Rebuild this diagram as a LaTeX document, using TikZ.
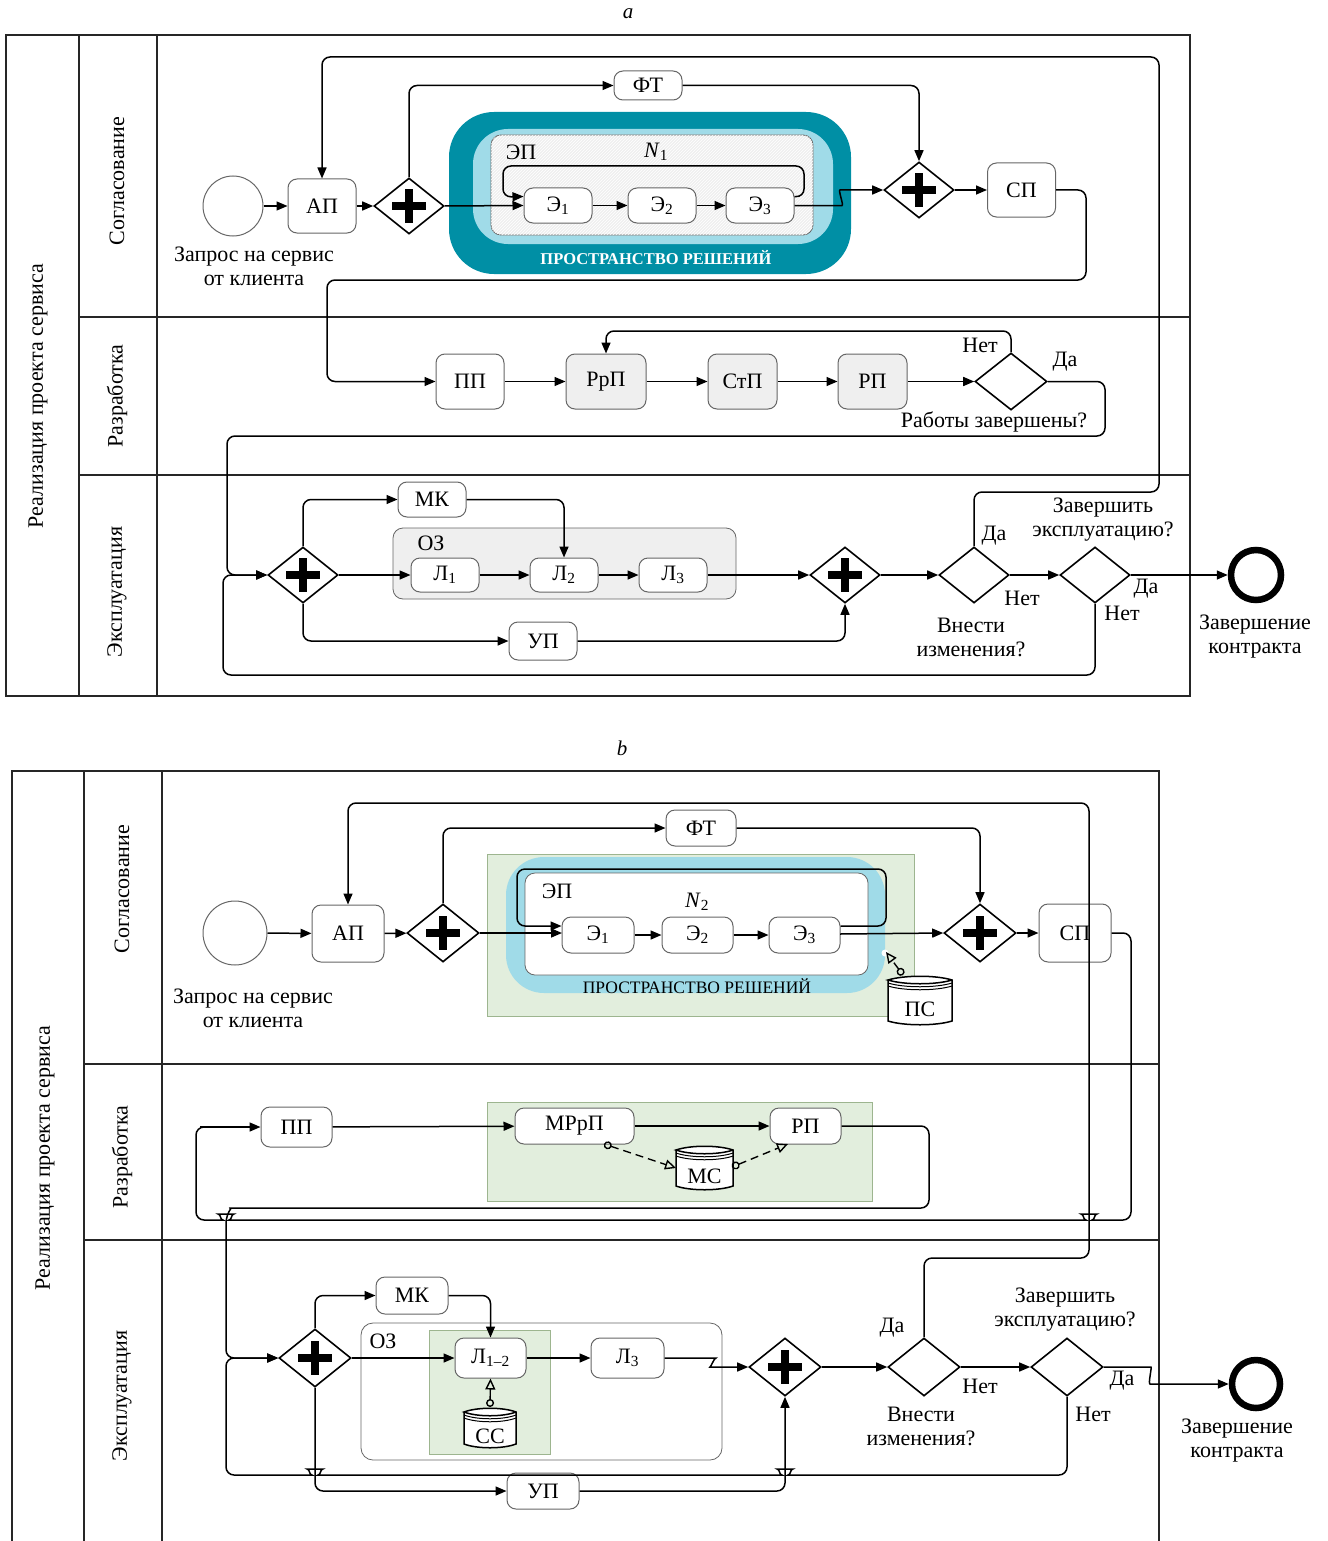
\documentclass[tikz,border=0pt]{standalone}
\usepackage{fontspec}
\setmainfont{Liberation Serif}
\usetikzlibrary{arrows.meta,shapes.geometric,patterns}
\definecolor{teal}{HTML}{008FA5}
\definecolor{lblue}{HTML}{A0DBE8}
\definecolor{lgreen}{HTML}{E2EEDD}
\definecolor{dgreen}{HTML}{9DB58F}
\definecolor{bgray}{HTML}{666666}
\definecolor{pgray}{HTML}{EFEFEF}
\tikzset{
  frameline/.style={line width=1.7pt,draw=black!85},
  flow/.style={line width=1.5pt,draw=black,rounded corners=8pt,-{Triangle[length=11pt,width=9pt]}},
  plainflow/.style={line width=1.5pt,draw=black,rounded corners=8pt},
  dep/.style={line width=1.4pt,draw=black,dash pattern=on 8pt off 5pt,{Circle[open,fill=none,length=8pt,width=8pt]}-{Triangle[open,length=11pt,width=10pt]}},
  box/.style={draw=bgray,line width=1pt,fill=white,rounded corners=9pt,inner sep=0pt,minimum width=#1},
  box/.default=68pt,
  graybox/.style={box=#1,fill=pgray},
  graybox/.default=68pt,
  gw/.style={diamond,draw=black,line width=1.6pt,fill=white,inner sep=0pt,minimum width=70pt,minimum height=56pt},
  gwb/.style={gw,minimum width=72pt,minimum height=58pt},
  plusgw/.style={path picture={
     \fill[black] (path picture bounding box.center) ++(-17,-4) rectangle ++(34,8);
     \fill[black] (path picture bounding box.center) ++(-4,-17) rectangle ++(8,34);}},
  lbl/.style={inner sep=0pt,align=center,font=\fontsize{22}{24}\selectfont},
  rot/.style={lbl,rotate=90},
  startev/.style={circle,draw=bgray,line width=1pt,fill=white,inner sep=0pt},
  endev/.style={circle,draw=black,line width=6.5pt,fill=white,inner sep=0pt,minimum size=50pt},
}
% cylinder: name, centre x, top y, width, height, text
\newcommand{\dbcyl}[6]{%
  \begin{scope}[shift={(#2,#3)}]
    \draw[line width=1.5pt,fill=white] (-#4/2,5) -- (-#4/2,#5-4) .. controls (-#4/4,#5+1) and (#4/4,#5+1) .. (#4/2,#5-4) -- (#4/2,5) .. controls (#4/4,0) and (-#4/4,0) .. (-#4/2,5) .. controls (-#4/4,10) and (#4/4,10) .. (#4/2,5);
    \draw[line width=1pt] (-#4/2,8) .. controls (-#4/4,13) and (#4/4,13) .. (#4/2,8);
    \draw[line width=1pt] (-#4/2,11) .. controls (-#4/4,16) and (#4/4,16) .. (#4/2,11);
    \node[lbl] (#1) at (0,#5/2+9) {#6};
  \end{scope}}
\newcommand{\hopat}[2]{-- (#1+11,#2) .. controls (#1+6,#2) and (#1+5,#2-6) .. (#1,#2-6) .. controls (#1-5,#2-6) and (#1-6,#2) .. (#1-11,#2)}
\begin{document}
\begin{tikzpicture}[x=1pt,y=-1pt]
\useasboundingbox (0,0) rectangle (1327,1541);
%%% ---------- PART A ----------
\node[lbl,font=\fontsize{21}{24}\itshape] (capA) at (628,14) {a};
\draw[frameline] (6,35) rectangle (1190,696);
\draw[frameline] (79,35) -- (79,696) (157,35) -- (157,696) (79,317) -- (1190,317) (79,475) -- (1190,475);
\node[rot] (tA0) at (38,396) {Реализация проекта сервиса};
\node[rot] (tA1) at (117,181) {Согласование};
\node[rot] (tA2) at (117,396) {Разработка};
\node[rot] (tA3) at (117,592) {Эксплуатация};
% nested regions
\node[fill=teal,rounded corners=45pt,minimum width=402pt,minimum height=162pt,inner sep=0pt] (regA1) at (650,193) {};
\node[fill=lblue,rounded corners=35pt,minimum width=360pt,minimum height=115pt,inner sep=0pt] (regA2) at (653,186.5) {};
\node[draw=bgray,line width=.8pt,fill=pgray,preaction={fill=pgray},postaction={pattern=north east lines,pattern color=white},rounded corners=10pt,minimum width=322pt,minimum height=100pt,inner sep=0pt] (regA3) at (652,185) {};
\node[lbl,font=\fontsize{16.5}{18}\bfseries\selectfont,text=white] (tReg) at (656,258) {ПРОСТРАНСТВО РЕШЕНИЙ};
\node[lbl] (tEpA) at (521,152) {ЭП};
\node[lbl] (tNA) at (656,152) {\textit{N}\textsubscript{1}};
% nodes
\node[startev,minimum size=60pt] (startA) at (233,206) {};
\node[lbl] (tStartA) at (254,266) {Запрос на сервис\\от клиента};
\node[box,minimum height=54pt,lbl] (apA) at (322,206) {АП};
\node[gw,plusgw] (gA1) at (409,206) {};
\node[box,minimum height=29pt,lbl] (ftA) at (648,85.5) {ФТ};
\node[box,minimum height=35pt,lbl] (e1A) at (558,205.5) {Э\textsubscript{1}};
\node[box,minimum height=35pt,lbl] (e2A) at (662,205.5) {Э\textsubscript{2}};
\node[box,minimum height=35pt,lbl] (e3A) at (760,205.5) {Э\textsubscript{3}};
\node[gw,plusgw] (gA2) at (919,190) {};
\node[box,minimum height=54pt,lbl] (spA) at (1021.5,190) {СП};
\node[box,minimum height=55pt,lbl] (ppA) at (470,381.5) {ПП};
\node[graybox=80pt,minimum height=55pt,lbl] (rrpA) at (606,381.5) {РрП};
\node[graybox=69pt,minimum height=55pt,lbl] (stpA) at (742.5,381.5) {СтП};
\node[graybox=69pt,minimum height=55pt,lbl] (rpA) at (872.5,381.5) {РП};
\node[gw,minimum width=72pt,minimum height=57pt] (dA) at (1011,381.5) {};
\node[lbl] (tNoA) at (980,345) {Нет};
\node[lbl] (tYesA) at (1065,362) {Да};
\node[lbl] (tDoneA) at (994,422) {Работы завершены?};
\node[gw,plusgw] (gA3) at (303,575) {};
\node[box,minimum height=35pt,lbl] (mkA) at (432,499.5) {МК};
\node[draw=bgray,line width=.8pt,fill=pgray,rounded corners=10pt,minimum width=343pt,minimum height=71pt,inner sep=0pt] (ozA) at (564.5,563.5) {};
\node[lbl] (tOzA) at (431,543) {ОЗ};
\node[box,minimum height=34pt,lbl] (l1A) at (445,575) {Л\textsubscript{1}};
\node[box,minimum height=34pt,lbl] (l2A) at (564,575) {Л\textsubscript{2}};
\node[box,minimum height=34pt,lbl] (l3A) at (673,575) {Л\textsubscript{3}};
\node[box,minimum height=38pt,lbl] (upA) at (543,641) {УП};
\node[gw,plusgw] (gA4) at (845,575) {};
\node[gw] (d3A) at (974,575) {};
\node[gw] (d4A) at (1095,575) {};
\node[endev] (endA) at (1256,575) {};
\node[lbl] (tYes3A) at (994,536) {Да};
\node[lbl] (tNo3A) at (1022,598) {Нет};
\node[lbl] (tChA) at (971,637) {Внести\\изменения?};
\node[lbl] (tFinA) at (1103,520) {Завершить\\эксплуатацию?};
\node[lbl] (tYes4A) at (1146,589) {Да};
\node[lbl] (tNo4A) at (1122,613) {Нет};
\node[lbl] (tEndA) at (1255,637) {Завершение\\контракта};
% connectors
\draw[flow] (startA) -- (apA);
\draw[flow] (apA) -- (gA1);
\draw[flow] (gA1.north) |- (ftA.west);
\draw[flow] (ftA.east) -| (gA2.north);
\draw[flow] (gA1.east) -- (e1A.west);
\draw[flow] ([yshift=9pt]e3A.east) -- (804,197) -- (804,166) -- (503,166) -- (503,197) -- ([yshift=9pt]e1A.west);
\draw[flow] (e1A) -- (e2A);
\draw[flow] (e2A) -- (e3A);
\draw[flow] (e3A.east) -- (834,205.5) .. controls (844,205.5) and (838,190) .. (848,190) -- (gA2.west);
\draw[flow] (gA2) -- (spA);
\draw[flow] (spA.east) -- (1086,190) -- (1086,280) -- (327,280) -- (327,381.5) -- (ppA.west);
\draw[flow] (ppA) -- (rrpA);
\draw[flow] (rrpA) -- (stpA);
\draw[flow] (stpA) -- (rpA);
\draw[flow] (rpA) -- (dA);
\draw[flow] (dA.north) -- (1011,331) -- (606,331) -- (rrpA.north);
\draw[flow] (dA.east) -- (1105,381.5) -- (1105,436) -- (227,436) -- (227,575) -- (gA3.west);
\draw[flow] (gA3.north) |- (mkA.west);
\draw[flow] (mkA.east) -| (l2A.north);
\draw[flow] (gA3.east) -- (l1A.west);
\draw[flow] (l1A) -- (l2A);
\draw[flow] (l2A) -- (l3A);
\draw[flow] (l3A) -- (gA4);
\draw[flow] (gA3.south) |- (upA.west);
\draw[flow] (upA.east) -| (gA4.south);
\draw[flow] (gA4) -- (d3A);
\draw[flow] (d3A) -- (d4A);
\draw[flow] (d4A) -- (endA);
\draw[flow] (d3A.north) -- (974,492) -- (1159,492) -- (1159,57) -- (322,57) -- (apA.north);
\draw[flow] (d4A.south) -- (1095,675) -- (223,675) -- (223,575) -- (gA3.west);
%%% ---------- PART B ----------
\node[lbl,font=\fontsize{21}{24}\itshape] (capB) at (622,748) {b};
\draw[frameline] (12,1541) -- (12,771) -- (1159,771) -- (1159,1541);
\draw[frameline] (84,771) -- (84,1541) (162,771) -- (162,1541) (84,1064) -- (1159,1064) (84,1240) -- (1159,1240);
\node[rot] (tB0) at (45,1158) {Реализация проекта сервиса};
\node[rot] (tB1) at (122,889) {Согласование};
\node[rot] (tB2) at (122,1157) {Разработка};
\node[rot] (tB3) at (122,1396) {Эксплуатация};
% regions
\node[draw=dgreen,line width=.8pt,fill=lgreen,minimum width=427pt,minimum height=162pt,inner sep=0pt] (regB1) at (700.5,935) {};
\node[fill=lblue,rounded corners=38pt,minimum width=379pt,minimum height=136pt,inner sep=0pt] (regB2) at (695.5,925) {};
\node[draw=bgray,line width=.8pt,fill=white,rounded corners=10pt,minimum width=343pt,minimum height=102pt,inner sep=0pt] (regB3) at (696.5,924) {};
\node[lbl,font=\fontsize{17.5}{18}\selectfont] (tRegB) at (697,986) {ПРОСТРАНСТВО РЕШЕНИЙ};
\node[lbl] (tEpB) at (557,891) {ЭП};
\node[lbl] (tNB) at (697,902) {\textit{N}\textsubscript{2}};
\node[draw=dgreen,line width=.8pt,fill=lgreen,minimum width=385pt,minimum height=99pt,inner sep=0pt] (regB4) at (679.5,1151.5) {};
\node[draw=bgray,line width=.8pt,fill=white,rounded corners=12pt,minimum width=361pt,minimum height=137pt,inner sep=0pt] (ozB) at (541.5,1391.5) {};
\node[lbl] (tOzB) at (383,1341) {ОЗ};
\node[draw=dgreen,line width=.8pt,fill=lgreen,minimum width=121pt,minimum height=124pt,inner sep=0pt] (regB5) at (489.5,1392) {};
% nodes
\node[startev,minimum size=64pt] (startB) at (235,933) {};
\node[lbl] (tStartB) at (253,1008) {Запрос на сервис\\от клиента};
\node[box=72pt,minimum height=57pt,lbl] (apB) at (348,933.5) {АП};
\node[gwb,plusgw] (gB1) at (443,933) {};
\node[box=70pt,minimum height=36pt,lbl] (ftB) at (701,828) {ФТ};
\node[box=72pt,minimum height=36pt,lbl] (e1B) at (598,935) {Э\textsubscript{1}};
\node[box=71pt,minimum height=36pt,lbl] (e2B) at (697.5,935) {Э\textsubscript{2}};
\node[box=71pt,minimum height=36pt,lbl] (e3B) at (804.5,935) {Э\textsubscript{3}};
\node[gwb,plusgw] (gB2) at (980,933) {};
\node[box=72pt,minimum height=58pt,lbl] (spB) at (1075,933) {СП};
\dbcyl{psB}{920}{975}{64}{50}{ПС}
\coordinate (psPort) at (903,975);
\coordinate (psTip) at (886,952);
\fill[white] (885,953) circle (3.5);
\node[box=71pt,minimum height=40pt,lbl] (ppB) at (296.5,1127) {ПП};
\node[box=119pt,minimum height=36pt,lbl] (mrpB) at (574.5,1126) {МРрП};
\node[box=71pt,minimum height=36pt,lbl] (rpB) at (805.5,1126) {РП};
\dbcyl{msB}{704.5}{1145}{57}{45}{МС}
\coordinate (mrpPort) at (604,1144);
\coordinate (msIn) at (676,1168);
\coordinate (msPort) at (732,1167);
\coordinate (rpIn) at (788,1144);
\node[gwb,plusgw] (gB3) at (315,1358) {};
\node[box=72pt,minimum height=37pt,lbl] (mkB) at (412,1295.5) {МК};
\node[box=71pt,minimum height=40pt,lbl] (l12B) at (490.5,1358) {Л\textsubscript{1--2}};
\node[box=73pt,minimum height=40pt,lbl] (l3B) at (627.5,1358) {Л\textsubscript{3}};
\dbcyl{ssB}{490}{1407}{52}{41}{СС}
\coordinate (ssPort) at (490,1407);
\node[box=72pt,minimum height=36pt,lbl] (upB) at (543,1491) {УП};
\node[gwb,plusgw] (gB4) at (785,1367) {};
\node[gwb] (d3B) at (924,1367) {};
\node[gwb] (d4B) at (1067,1367) {};
\node[endev,minimum size=48pt] (endB) at (1256,1384) {};
\node[lbl] (tYes3B) at (892,1328) {Да};
\node[lbl] (tNo3B) at (980,1386) {Нет};
\node[lbl] (tChB) at (921,1426) {Внести\\изменения?};
\node[lbl] (tFinB) at (1065,1310) {Завершить\\эксплуатацию?};
\node[lbl] (tYes4B) at (1122,1381) {Да};
\node[lbl] (tNo4B) at (1093,1414) {Нет};
\node[lbl] (tEndB) at (1237,1441) {Завершение\\контракта};
% connectors
\draw[flow] (startB) -- (apB);
\draw[flow] (apB) -- (gB1);
\draw[flow] (gB1.north) |- (ftB.west);
\draw[flow] (ftB.east) -| (gB2.north);
\draw[flow] (gB1.east) -- (562,933);
\draw[flow] ([yshift=9pt]e3B.east) -- (886,926) -- (886,869) -- (517,869) -- (517,926) -- ([yshift=9pt]e1B.west);
\draw[flow] (e1B) -- (e2B);
\draw[flow] (e2B) -- (e3B);
\draw[flow] (840,934) -- (gB2.west);
\draw[flow] (gB2.east) -- (spB.west);
\draw[dep] (psPort) -- (psTip);
\draw[plainflow] (spB.east) -- (1131,933) -- (1131,1220) \hopat{1089}{1220} \hopat{226}{1220} -- (196,1220) -- (196,1127) -- (205,1127);
\draw[flow] (200,1127) -- (ppB.west);
\draw[flow] (ppB) -- (mrpB);
\draw[flow] (mrpB) -- (rpB);
\draw[dep] (mrpPort) -- (msIn);
\draw[dep] (msPort) -- (rpIn);
\draw[flow] (rpB.east) -- (929,1126) -- (929,1208) -- (238,1208) .. controls (232,1208) and (229,1211) .. (226,1215) -- (226,1358) -- (gB3.west);
\draw[flow] (gB3.north) |- (mkB.west);
\draw[flow] (mkB.east) -| (l12B.north);
\draw[flow] (gB3.east) -- (l12B.west);
\draw[flow] (l12B) -- (l3B);
\draw[dep,dash pattern=on 100pt off 0pt] (ssPort) -- (l12B.south);
\draw[flow] (l3B.east) -- (708,1358) .. controls (714,1358) and (711,1367) .. (718,1367) -- (gB4.west);
\draw[flow] (gB3.south) |- (upB.west);
\draw[flow] (upB.east) -| (gB4.south);
\draw[flow] (gB4) -- (d3B);
\draw[flow] (d3B) -- (d4B);
\draw[flow] (d4B.east) -- (1143,1367) .. controls (1152,1367) and (1148,1384) .. (1158,1384) -- (endB.west);
\draw[flow] (d3B.north) -- (924,1258) -- (1089,1258) -- (1089,803) -- (348,803) -- (apB.north);
\draw[flow] (d4B.south) -- (1067,1475) \hopat{785}{1475} \hopat{315}{1475} -- (226,1475) -- (226,1358) -- (gB3.west);
\end{tikzpicture}
\end{document}
